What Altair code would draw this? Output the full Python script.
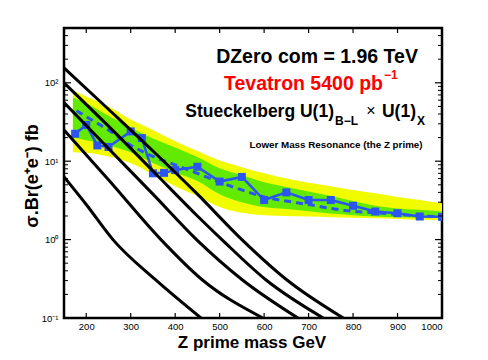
import altair as alt
import pandas as pd

# ---------------- data ----------------
obs_mass = [175, 200, 225, 250, 300, 325, 350, 375, 400, 450, 500, 550, 600, 650, 700, 750, 800, 850, 900, 950, 1000]
obs_val = [22.4, 29, 15.9, 15.2, 24, 19.7, 7.0, 7.1, 7.7, 8.5, 5.5, 6.3, 3.2, 4.0, 3.2, 3.2, 2.7, 2.28, 2.17, 1.97, 1.95]

exp_mass = [178, 200, 250, 300, 350, 400, 450, 500, 550, 600, 650, 700, 750, 800, 850, 900, 950, 1000]
exp_val = [44, 37, 25, 16, 11.5, 9.0, 7.0, 5.4, 4.3, 3.5, 3.1, 2.8, 2.5, 2.3, 2.2, 2.1, 2.0, 1.97]

band_mass = [170, 200, 250, 300, 350, 400, 450, 500, 550, 600, 650, 700, 750, 800, 850, 900, 950, 1000]
yellow_hi = [80, 67, 50, 34, 25, 18, 13.5, 10.2, 8.4, 7.0, 6.0, 5.3, 4.8, 4.3, 3.9, 3.5, 3.2, 2.9]
yellow_lo = [13, 12.8, 11.5, 9.5, 6.8, 4.8, 3.6, 2.6, 2.2, 2.05, 2.0, 1.97, 1.93, 1.9, 1.87, 1.83, 1.79, 1.76]
green_hi = [65, 55, 38, 27, 19.5, 15, 11.3, 8.1, 6.6, 5.4, 4.7, 4.1, 3.6, 3.1, 2.7, 2.5, 2.4, 2.28]
green_lo = [20, 18.5, 16, 13, 9.5, 7.2, 5.6, 3.8, 3.0, 2.6, 2.45, 2.3, 2.15, 2.05, 1.97, 1.93, 1.9, 1.88]

th1_mass = [150, 250, 350, 450, 550, 650, 778]
th1_val = [155, 46, 13.5, 3.8, 1.0, 0.31, 0.1]
th2_mass = [150, 250, 350, 450, 505, 603, 733]
th2_val = [100, 28, 7.5, 2.0, 1.0, 0.31, 0.1]
th3_mass = [150, 250, 350, 448, 550, 676]
th3_val = [56, 14.5, 3.8, 1.0, 0.31, 0.1]
th4_mass = [150, 250, 368, 460, 597]
th4_val = [25, 5.8, 1.0, 0.31, 0.1]
th5_mass = [150, 200, 260, 355, 458]
th5_val = [6.3, 2.8, 1.0, 0.31, 0.1]

x_ticks = [200, 300, 400, 500, 600, 700, 800, 900, 1000]
y_ticks = [0.1, 1, 10, 100]
y_tick_labels = ["10\u207b\u00b9", "10\u2070", "10\u00b9", "10\u00b2"]
y_minor = [0.2, 0.3, 0.4, 0.5, 0.6, 0.7, 0.8, 0.9,
           2, 3, 4, 5, 6, 7, 8, 9,
           20, 30, 40, 50, 60, 70, 80, 90,
           200, 300, 400]

texts = ["DZero com = 1.96 TeV", "Tevatron 5400 pb", "\u22121",
         "Stueckelberg U(1)", "B\u2212L", "\u00d7", "U(1)", "X",
         "Lower Mass Resonance (the Z prime)",
         "Z prime mass GeV", "\u03c3.Br(e\u207ae\u207b)  fb"]

# ---------------- styling ----------------
W, H = 378, 290
FONT = "Liberation Sans"
YELLOW = "#f2fc00"
GREEN = "#62ea00"
BLUE = "#2a55f0"

xs = alt.Scale(domain=[150, 1000], nice=False, zero=False)
ys = alt.Scale(type="log", domain=[0.1, 500], nice=False)

label_expr = " : ".join(
    f"datum.value == {v} ? '{l}'" for v, l in zip(y_ticks[:-1], y_tick_labels[:-1])
) + f" : '{y_tick_labels[-1]}'"

AX = alt.Axis(values=x_ticks, format="d", title=None, grid=False, ticks=False, domain=False,
              labelFont=FONT, labelFontSize=9.5, labelColor="black", labelPadding=3)
AY = alt.Axis(values=y_ticks, labelExpr=label_expr, title=None, grid=False, ticks=False,
              domain=False, labelFont=FONT, labelFontSize=9.5, labelColor="black", labelPadding=6)


def X(f):
    return alt.X(f, scale=xs, axis=AX)


def Y(f):
    return alt.Y(f, scale=ys, axis=AY)


band_df = pd.DataFrame({"m": band_mass, "ylo": yellow_lo, "yhi": yellow_hi,
                        "glo": green_lo, "ghi": green_hi})

yellow = alt.Chart(band_df).mark_area(color=YELLOW, interpolate="monotone", clip=True).encode(
    x=X("m:Q"), y=Y("ylo:Q"), y2="yhi:Q")
green = alt.Chart(band_df).mark_area(color=GREEN, interpolate="monotone", clip=True).encode(
    x=X("m:Q"), y=Y("glo:Q"), y2="ghi:Q")

exp_df = pd.DataFrame({"m": exp_mass, "v": exp_val})
expected = alt.Chart(exp_df).mark_line(color=BLUE, strokeWidth=3, strokeDash=[7, 5],
                                       interpolate="monotone", clip=True).encode(
    x=X("m:Q"), y=Y("v:Q"))

obs_df = pd.DataFrame({"m": obs_mass, "v": obs_val})
observed = alt.Chart(obs_df).mark_line(
    color=BLUE, strokeWidth=2.5, clip=True,
    point=alt.OverlayMarkDef(shape="square", size=64, filled=True, color=BLUE, opacity=1, clip=True),
).encode(x=X("m:Q"), y=Y("v:Q"))

th_rows = []
for i, (ms, vs) in enumerate([(th1_mass, th1_val), (th2_mass, th2_val), (th3_mass, th3_val),
                              (th4_mass, th4_val), (th5_mass, th5_val)]):
    for m, v in zip(ms, vs):
        th_rows.append({"m": m, "v": v, "id": i})
th_df = pd.DataFrame(th_rows)
theory = alt.Chart(th_df).mark_line(color="black", strokeWidth=3, interpolate="monotone",
                                    clip=True).encode(
    x=X("m:Q"), y=Y("v:Q"), detail="id:N")

# inward ticks
xt = pd.DataFrame({"t": x_ticks})
yt = pd.DataFrame({"t": y_ticks})
ym = pd.DataFrame({"t": y_minor})


def xtick(y0, y1):
    return alt.Chart(xt).mark_rule(color="black", strokeWidth=1.2).encode(
        x=X("t:Q"), y=alt.value(y0), y2=alt.value(y1))


def ytick(df, x0, x1, w=1.2):
    return alt.Chart(df).mark_rule(color="black", strokeWidth=w).encode(
        y=Y("t:Q"), x=alt.value(x0), x2=alt.value(x1))


ticks = [xtick(H, H - 5), xtick(0, 5),
         ytick(yt, 0, 7), ytick(yt, W, W - 7),
         ytick(ym, 0, 4, 1), ytick(ym, W, W - 4, 1)]

one = pd.DataFrame({"a": [0]})


def label(text, x, y, size, color="black", align="center", baseline="alphabetic",
          weight="bold", angle=0):
    return alt.Chart(one).mark_text(text=text, font=FONT, fontSize=size, fontWeight=weight,
                                    color=color, align=align, baseline=baseline,
                                    angle=angle).encode(x=alt.value(x), y=alt.value(y))


labels = [
    label(texts[0], 253, 35, 19.5),
    label(texts[1], 319, 62, 19.5, color="#ff0000", align="right"),
    label(texts[2], 320, 51, 12, color="#ff0000", align="left"),
    label(texts[3], 270, 89, 17.5, align="right"),
    label(texts[4], 271, 97, 12, align="left"),
    label(texts[5], 307, 88, 16, weight="normal"),
    label(texts[6], 352, 89, 17.5, align="right"),
    label(texts[7], 353, 97, 12, align="left"),
    label(texts[8], 272, 120, 9.8),
    label(texts[9], 188, 320, 17),
    label(texts[10], -31, 148, 18, angle=270, baseline="middle"),
]

chart = alt.layer(yellow, green, expected, observed, theory, *ticks, *labels).properties(
    width=W, height=H,
    padding={"left": 56, "top": 20, "right": 30, "bottom": 34},
    autosize=alt.AutoSizeParams(type="none"),
    background="white",
).configure_view(stroke="black", strokeWidth=2.5)

chart.save("out.html", embed_options={"renderer": "svg", "actions": False})
